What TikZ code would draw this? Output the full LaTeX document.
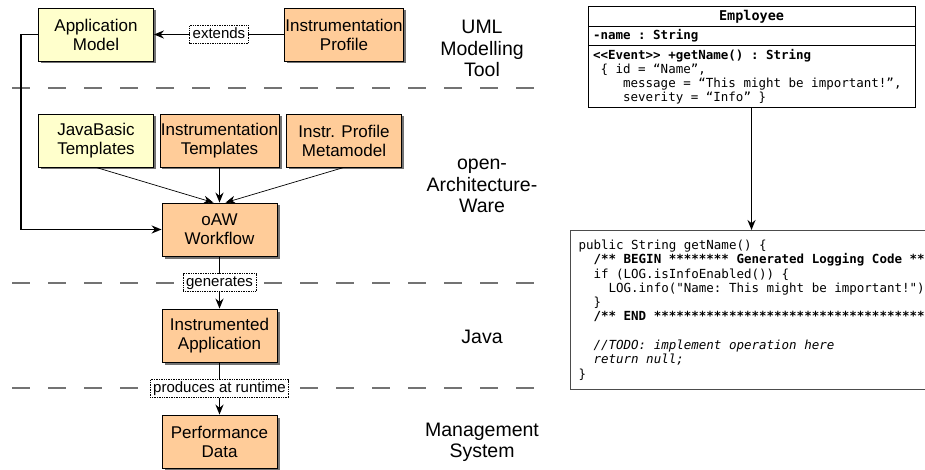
\documentclass[tikz,border=0pt]{standalone}
\usepackage{fontspec}
\setmainfont{Liberation Sans}
\setmonofont{DejaVu Sans Mono}
\usepackage{tikz}
\usetikzlibrary{positioning,shadows,arrows.meta}

\definecolor{modelyellow}{HTML}{FFFFCC}
\definecolor{genorange}{HTML}{FFCC99}

\newcommand{\umlfont}{\ttfamily\fontsize{12.5}{14}\selectfont}
\newcommand{\codefont}{\ttfamily\fontsize{12.5}{14.3}\selectfont}
\newcommand{\ind}[1]{\hspace*{#1\dimexpr 7.526pt\relax}}

\tikzset{
  box/.style={draw, line width=0.8pt, minimum width=115pt, minimum height=53pt, inner sep=1pt, align=center,
    font=\fontsize{17}{19}\selectfont,
    drop shadow={shadow xshift=2.5pt, shadow yshift=-2.5pt, fill=black!55, opacity=1}},
  ybox/.style={box, fill=modelyellow},
  obox/.style={box, fill=genorange},
  lbl/.style={draw, densely dotted, fill=white, line width=0.7pt, inner xsep=3pt, inner ysep=2pt,
    text height=11pt, text depth=3pt, font=\fontsize{15}{17}\selectfont},
  layer/.style={align=center, font=\fontsize{19.5}{21.5}\selectfont},
  layerline/.style={draw=black!55, line width=1.5pt, dash pattern=on 18pt off 18pt},
  flow/.style={line width=1.6pt, -{Stealth[length=10pt,width=8pt]}},
  thinflow/.style={line width=0.7pt, -{Stealth[length=10pt,width=8pt]}},
  umlpart/.style={draw, line width=0.9pt, minimum width=327pt, outer sep=0pt, font=\umlfont},
}

\begin{document}
\begin{tikzpicture}[x=1pt, y=-1pt]
    \useasboundingbox (0,0) rectangle (925,470);
    \clip (0,0) rectangle (925,470);

    % layer borders
    \draw[layerline] (12,88) -- (534,88);
    \draw[layerline] (12,283) -- (534,283);
    \draw[layerline] (12,388) -- (534,388);

    % models
    \node (appmodel) at (96,34.5) [ybox] {Application\\Model};
    \node (instrprofile) at (344,34.5) [obox] {Instrumentation\\Profile};

    % templates and generator
    \node (javabasic) at (96,140.5) [ybox] {JavaBasic\\Templates};
    \node (instrtemplates) at (219.5,140.5) [obox] {Instrumentation\\Templates};
    \node (metamodel) at (344,140.5) [obox] {Instr. Profile\\Metamodel};
    \node (workflow) at (219.5,229.5) [obox] {oAW\\Workflow};

    % results
    \node (instrapp) at (219.5,335.5) [obox] {Instrumented\\Application};
    \node (perfdata) at (219.5,441.5) [obox] {Performance\\Data};

    % layer names
    \node (umltool) at (482,48.5) [layer] {UML\\Modelling\\Tool};
    \node (oaw) at (482,186) [layer] {open-\\Architecture-\\Ware};
    \node (java) at (482,337) [layer] {Java};
    \node (mgmt) at (482,442.5) [layer] {Management\\System};

    % connectors
    \draw[flow] (instrprofile) -- node[lbl] {extends} (appmodel);
    \draw[thinflow] (javabasic.south) -- ([xshift=-6pt]workflow.north);
    \draw[flow] (instrtemplates) -- (workflow);
    \draw[thinflow] (metamodel.south) -- ([xshift=6pt]workflow.north);
    \draw[flow] (appmodel.west) -- ++(-17,0) |- (workflow.west);
    \draw[flow] (workflow) -- node[lbl] {generates} (instrapp);
    \draw[flow] (instrapp) -- node[lbl] {produces at runtime} (perfdata);

    % example class
    \node (empname) at (751.5,16.5) [umlpart, minimum height=17pt,
      font=\ttfamily\bfseries\fontsize{13.5}{14}\selectfont] {Employee};
    \node (empattr) [umlpart, below=0pt of empname, minimum height=18pt, text width=317pt,
      inner xsep=5pt, align=flush left] {\textbf{-name : String}};
    \node (empops) [umlpart, below=0pt of empattr, minimum height=62pt, text width=317pt,
      inner xsep=5pt, align=flush left] {\textbf{<<Event>> +getName() : String}\\
      \ind{1}\{ id = “Name”,\\
      \ind{4}message = “This might be important!”,\\
      \ind{4}severity = “Info” \}};

    % generated code
    \node (code) at (570,230) [draw=black!70, line width=1pt, anchor=north west, text width=347pt,
      minimum height=159pt, inner xsep=8pt, inner ysep=0pt, align=flush left, font=\codefont] {public String getName() \{\\
      \ind{2}\textbf{/** BEGIN ******** Generated Logging Code **}\\
      \ind{2}if (LOG.isInfoEnabled()) \{\\
      \ind{4}LOG.info("Name: This might be important!")\\
      \ind{2}\}\\
      \ind{2}\textbf{/** END ************************************}\\
      \mbox{}\\
      \ind{2}\textit{//TODO: implement operation here}\\
      \ind{2}\textit{return null;}\\
      \}};

    \draw[flow] (empops.south) -- (empops.south |- code.north);
\end{tikzpicture}
\end{document}
